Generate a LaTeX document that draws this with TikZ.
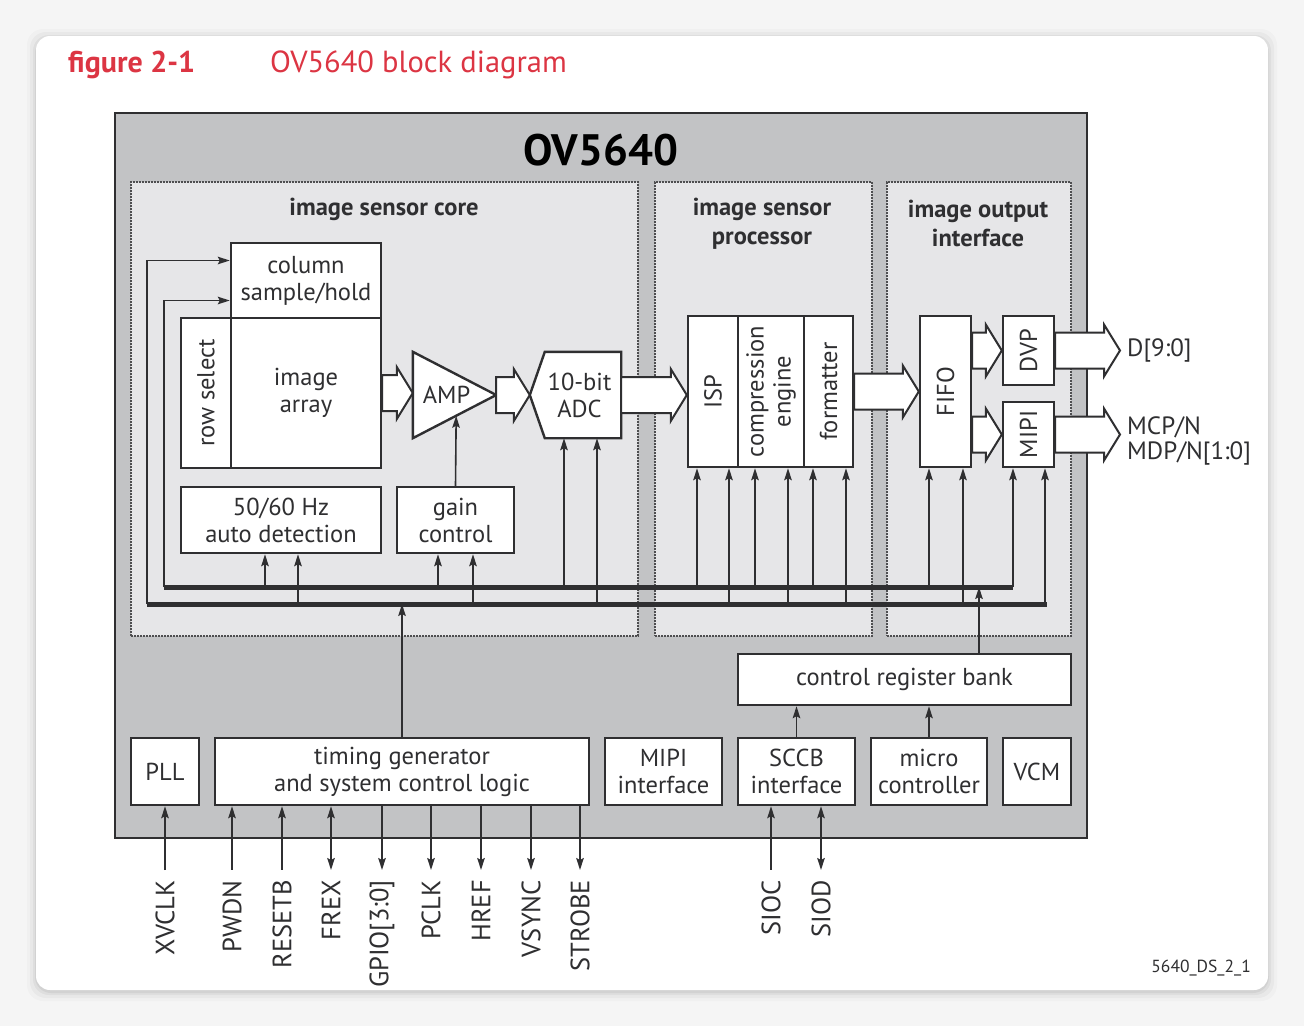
\documentclass[tikz,border=0pt]{standalone}
\usepackage{fontspec}
\setmainfont{PT Sans}
\usetikzlibrary{arrows.meta,positioning,calc}
\definecolor{Ink}{HTML}{2F2F31}
\definecolor{Chip}{HTML}{C2C3C5}
\definecolor{Zone}{HTML}{E6E6E8}
\definecolor{Brand}{HTML}{DC3543}
\definecolor{Page}{HTML}{F5F5F5}
\newcommand\blkfont{\fontsize{24.5}{27}\selectfont}
\newcommand\zonefont{\fontsize{24.5}{29}\selectfont\bfseries}
\newcommand\chipfont{\fontsize{44}{48}\selectfont\bfseries}
\newcommand\pinfont{\fontsize{26.5}{28}\selectfont}
\tikzset{
  >={Stealth[length=12pt,width=7.5pt,inset=2pt]},
  chip/.style={draw=Ink,fill=Chip,line width=2.5pt,inner sep=0pt},
  zone/.style={draw=Ink!85,fill=Zone,line width=2.2pt,dash pattern=on 1.6pt off 1.4pt,inner sep=0pt},
  zonelab/.style={font=\zonefont,text=Ink,align=center,inner sep=0pt},
  blk/.style={draw=Ink,fill=white,line width=2.4pt,inner sep=0pt,align=center,font=\blkfont,text=Ink},
  hole/.style={inner sep=0pt},
  outline/.style={draw=Ink,fill=white,line width=2.4pt,line join=miter},
  txt/.style={font=\blkfont,text=Ink,align=center,inner sep=0pt},
  vlab/.style={txt,rotate=90},
  sig/.style={draw=Ink,line width=1.6pt},
  bus/.style={draw=Ink,line width=5pt},
  pinlab/.style={rotate=90,anchor=east,font=\pinfont,text=Ink,inner sep=0pt},
  pinin/.style={<-},
  pinout/.style={->},
  pinbi/.style={<->},
  fat/.style={draw=Ink,fill=white,line width=2pt,line join=miter,
    to path={let \p1=(\tikztostart),\p2=(\tikztotarget) in
      (\x1,\y1+18pt) -- (\x2-16pt,\y1+18pt) -- (\x2-16pt,\y1+26pt) -- (\x2,\y1)
      -- (\x2-16pt,\y1-26pt) -- (\x2-16pt,\y1-18pt) -- (\x1,\y1-18pt) -- cycle}}
}
\begin{document}
\begin{tikzpicture}[x=1pt,y=-1pt]
  \useasboundingbox (0,0) rectangle (1304,1026);
  \fill[Page] (0,0) rectangle (1304,1026);
  % card with soft shadow
  \foreach \s/\o in {9/0.02,6/0.03,3/0.04,1/0.05}
    \fill[black,opacity=\o,rounded corners=16pt] (36-\s,38-\s) rectangle (1268+\s,992+\s);
  \fill[white,rounded corners=14pt] (36,36) rectangle (1268,990);

  \node[anchor=west,font=\fontsize{30}{33}\selectfont\bfseries,text=Brand,inner sep=0pt] (fig) at (68,65) {figure 2-1};
  \node[anchor=west,font=\fontsize{30.5}{33}\selectfont,text=Brand,inner sep=0pt] (caption) at (270,65) {OV5640 block diagram};

  % chip outline and zones
  \node[chip,minimum width=972pt,minimum height=725pt] (ov) at (601,475.5) {};
  \node[font=\chipfont,text=black,inner sep=0pt] (ovlab) at (601,150) {OV5640};
  \node[zone,minimum width=507pt,minimum height=454pt] (core) at (384.5,409) {};
  \node[zone,minimum width=217pt,minimum height=454pt] (proc) at (763.5,409) {};
  \node[zone,minimum width=184pt,minimum height=454pt] (outif) at (979,409) {};
  \node[zonelab] (corelab) at (384,209) {image sensor core};
  \node[zonelab] (proclab) at (762,223.5) {image sensor\\processor};
  \node[zonelab] (outlab) at (978,223.5) {image output\\interface};

  % sensor core
  \node[blk,minimum width=150pt,minimum height=75pt] (colsh) at (306,280.5) {column\\sample/hold};
  \node[blk,minimum width=50pt,minimum height=150pt] (rowsel) at (206,393) {};
  \node[vlab] at (rowsel) {row select};
  \node[blk,minimum width=150pt,minimum height=150pt] (imgarr) at (306,393) {image\\array};
  \node[blk,minimum width=200pt,minimum height=66pt] (det) at (281,520) {50/60 Hz\\auto detection};
  \node[blk,minimum width=117pt,minimum height=66pt] (gain) at (455.5,520) {gain\\control};
  \node[hole,minimum width=83pt,minimum height=86pt] (amp) at (454.5,395) {};
  \draw[outline] (amp.north west) -- (amp.east) -- (amp.south west) -- cycle;
  \node[txt] at ([xshift=-8pt]amp.center) {AMP};
  \node[hole,minimum width=91pt,minimum height=86pt] (adc) at (575.5,395) {};
  \draw[outline] (adc.west) -- ([xshift=15pt]adc.north west) -- (adc.north east)
    -- (adc.south east) -- ([xshift=15pt]adc.south west) -- cycle;
  \node[txt] at ([xshift=4pt]adc.center) {10-bit\\ADC};

  % processor and output
  \node[blk,minimum width=50pt,minimum height=151pt] (isp) at (713,391.5) {};
  \node[blk,minimum width=66pt,minimum height=151pt] (comp) at (771,391.5) {};
  \node[blk,minimum width=49pt,minimum height=151pt] (fmt) at (828.5,391.5) {};
  \node[blk,minimum width=51pt,minimum height=151pt] (fifo) at (945.5,391.5) {};
  \node[blk,minimum width=51pt,minimum height=69pt] (dvp) at (1028.5,350.5) {};
  \node[blk,minimum width=51pt,minimum height=65pt] (mipi) at (1028.5,434.5) {};
  \node[vlab] at (isp) {ISP};
  \node[vlab] at (comp) {compression\\engine};
  \node[vlab] at (fmt) {formatter};
  \node[vlab] at (fifo) {FIFO};
  \node[vlab] at (dvp) {DVP};
  \node[vlab] at (mipi) {MIPI};

  % bottom row
  \node[blk,minimum width=333pt,minimum height=51pt] (crb) at (904.5,679.5) {control register bank};
  \node[blk,minimum width=68pt,minimum height=67pt] (pll) at (165,771.5) {PLL};
  \node[blk,minimum width=374pt,minimum height=67pt] (tgen) at (402,771.5) {timing generator\\and system control logic};
  \node[blk,minimum width=117pt,minimum height=67pt] (mipiif) at (663.5,771.5) {MIPI\\interface};
  \node[blk,minimum width=117pt,minimum height=67pt] (sccb) at (796.5,771.5) {SCCB\\interface};
  \node[blk,minimum width=116pt,minimum height=67pt] (micro) at (929,771.5) {micro\\controller};
  \node[blk,minimum width=68pt,minimum height=67pt] (vcm) at (1037,771.5) {VCM};

  % control buses
  \coordinate (busA-w) at (164,587);
  \coordinate (busA-e) at (1013,587);
  \coordinate (busB-w) at (147,604);
  \coordinate (busB-e) at (1047,604);
  \draw[sig,->] (busB-w) |- ([yshift=20pt]colsh.west);
  \draw[sig,->] (busA-w) |- ([yshift=-20pt]colsh.west);
  \foreach \x/\n in {265/det,438/gain,564/adc,697/isp,755/comp,813/fmt,929/fifo,1013/mipi}
    \draw[sig,->] (busA-w -| \x,0) -- (\n.south -| \x,0);
  \foreach \x/\n in {298/det,473/gain,597/adc,729/isp,788/comp,846/fmt,963/fifo,1045/mipi}
    \draw[sig,->] (busB-w -| \x,0) -- (\n.south -| \x,0);
  \draw[bus] (busA-w) -- (busA-e);
  \draw[bus] (busB-w) -- (busB-e);
  \draw[sig,->] (gain.north) -- ($(amp.south west)!0.52!(amp.east)$);
  \coordinate (crbtap) at (979,587);
  \draw[sig,->] (crb.north -| crbtap) -- (crbtap);
  \draw[sig,->] (tgen.north) -- (tgen.north |- busB-w);
  \draw[sig,->] (sccb.north) -- (sccb.north |- crb.south);
  \draw[sig,->] (micro.north) -- (micro.north |- crb.south);

  % data path
  \coordinate (dout) at (1120,350);
  \coordinate (mout) at (1120,435);
  \draw[fat] (imgarr.east) to (amp.west);
  \draw[fat] (amp.east) to (adc.west);
  \draw[fat] (adc.east) to (isp.west);
  \draw[fat] (fmt.east) to (fifo.west);
  \draw[fat] (fifo.east |- dvp.west) to (dvp.west);
  \draw[fat] (fifo.east |- mipi.west) to (mipi.west);
  \draw[fat] (dvp.east) to (dout);
  \draw[fat] (mipi.east) to (mout);
  \node[anchor=west,font=\fontsize{25}{26}\selectfont,text=Ink,inner sep=0pt] (dlab) at (1127,350) {D[9:0]};
  \node[anchor=west,font=\fontsize{25}{25}\selectfont,text=Ink,align=left,inner sep=0pt] (mlab) at (1127,440.5) {MCP/N\\MDP/N[1:0]};

  % pins
  \coordinate (pin-xvclk) at (165,870);
  \draw[sig,->] (pin-xvclk) -- (pll.south);
  \node[pinlab] (lab-xvclk) at (165,880) {XVCLK};
  \foreach \x/\n/\t/\d in {232/pwdn/PWDN/in,282/resetb/RESETB/in,331/frex/FREX/bi,382/gpio/GPIO[3:0]/out,431/pclk/PCLK/out,481/href/HREF/out,531/vsync/VSYNC/out,580/strobe/STROBE/out}{
    \coordinate (pin-\n) at (\x,870);
    \draw[sig,pin\d] (tgen.south -| pin-\n) -- (pin-\n);
    \node[pinlab] (lab-\n) at (\x,880) {\t};
  }
  \foreach \x/\n/\t/\d in {771/sioc/SIOC/in,821/siod/SIOD/bi}{
    \coordinate (pin-\n) at (\x,870);
    \draw[sig,pin\d] (sccb.south -| pin-\n) -- (pin-\n);
    \node[pinlab] (lab-\n) at (\x,880) {\t};
  }
  \node[anchor=east,font=\fontsize{17.5}{19}\selectfont,text=Ink,inner sep=0pt] (docid) at (1251,968) {5640\_DS\_2\_1};
\end{tikzpicture}
\end{document}
